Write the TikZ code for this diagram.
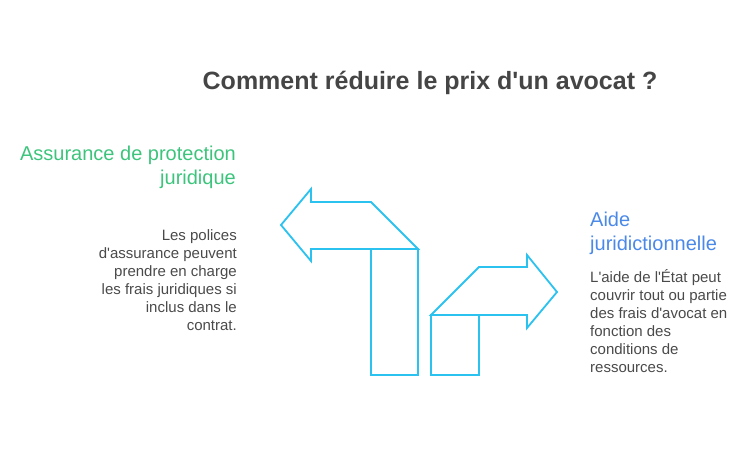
\documentclass[tikz,border=0pt]{standalone}
\usepackage{fontspec}
\setmainfont{Liberation Sans}[Ligatures=TeXOff]
\definecolor{arrowcyan}{HTML}{2BC2F0}
\definecolor{titlegray}{HTML}{454545}
\definecolor{bodygray}{HTML}{4A4A4A}
\definecolor{headgreen}{HTML}{3CC47C}
\definecolor{headblue}{HTML}{4A89E8}
\tikzset{
  turnarrow/.style={draw=arrowcyan, line width=1.8pt, line join=miter},
  heading/.style={inner sep=0pt, font=\fontsize{20}{24}\selectfont},
  bodytext/.style={inner sep=0pt, text=bodygray, font=\fontsize{15}{18}\selectfont},
}
\begin{document}
\begin{tikzpicture}[x=1pt, y=-1pt]
\useasboundingbox (0,0) rectangle (756,470);
% title
\node[anchor=base, inner sep=0pt, text=titlegray, font=\fontsize{25}{30}\selectfont\bfseries] (title) at (430,90) {Comment réduire le prix d'un avocat ?};
% left arrow (turning left)
\draw[turnarrow] (281,225) -- (311,189) -- (311,202) -- (371,202) -- (418,249) -- (311,249) -- (311,261) -- cycle;
\draw[turnarrow] (371,249) rectangle (418,375);
% right arrow (turning right)
\draw[turnarrow] (557,292) -- (527,255) -- (527,267) -- (479,267) -- (431,315) -- (527,315) -- (527,328) -- cycle;
\draw[turnarrow] (431,315) rectangle (479,375);
% left side texts (base = last line)
\node[heading, text=headgreen, align=right, anchor=base east] (assur) at (236,185) {Assurance de protection\\juridique};
\node[bodytext, align=right, anchor=base east] (assurtxt) at (237,331) {Les polices\\d'assurance peuvent\\prendre en charge\\les frais juridiques si\\inclus dans le\\contrat.};
% right side texts
\node[heading, text=headblue, align=left, anchor=base west] (aide) at (590,251) {Aide\\juridictionnelle};
\node[bodytext, align=left, anchor=base west] (aidetxt) at (590,373) {L'aide de l'État peut\\couvrir tout ou partie\\des frais d'avocat en\\fonction des\\conditions de\\ressources.};
\end{tikzpicture}
\end{document}
